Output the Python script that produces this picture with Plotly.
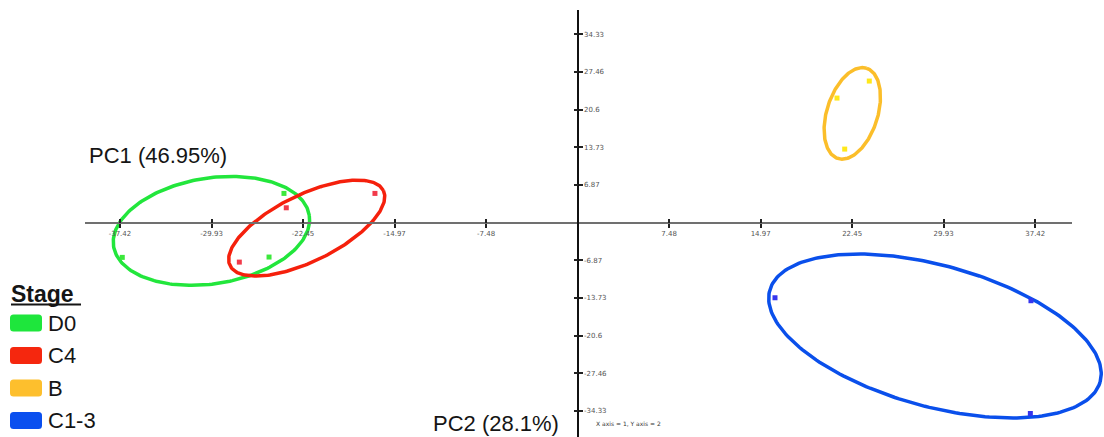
import numpy as np
import plotly.graph_objects as go

# ---------------- data ----------------
stages = ["D0", "C4", "B", "C1-3"]

d0_x = [-24.01, -37.23, -25.23]
d0_y = [5.32, -6.34, -6.28]
c4_x = [-23.82, -16.57, -27.66]
c4_y = [2.70, 5.32, -7.20]
b_x = [23.85, 21.21, 21.84]
b_y = [25.80, 22.70, 13.40]
c13_x = [16.14, 37.07, 37.02]
c13_y = [-13.70, -14.24, -34.80]

# ellipse parameters (centre and two conjugate semi-diameters, data units)
ell_cx = [-29.94, -22.15, 22.46, 29.22]
ell_cy = [-1.51, -1.00, 19.91, -20.67]
ell_ux = [8.00, 6.27, 1.18, 13.51]
ell_uy = [2.83, 6.84, 8.22, -8.33]
ell_vx = [-0.67, -1.19, -1.98, 1.53]
ell_vy = [9.52, 5.45, 1.42, 12.40]

x_ticks = [-37.42, -29.93, -22.45, -14.97, -7.48, 7.48, 14.97, 22.45, 29.93, 37.42]
x_tick_labels = ["-37.42", "-29.93", "-22.45", "-14.97", "-7.48", "7.48", "14.97", "22.45", "29.93", "37.42"]
y_ticks = [34.33, 27.46, 20.6, 13.73, 6.87, -6.87, -13.73, -20.6, -27.46, -34.33]
y_tick_labels = ["34.33", "27.46", "20.6", "13.73", "6.87", "-6.87", "-13.73", "-20.6", "-27.46", "-34.33"]

x_title = "PC1 (46.95%)"
y_title = "PC2 (28.1%)"
note = "X axis = 1, Y axis = 2"
legend_title = "Stage"

# ---------------- styles ----------------
legend_colors = ["#1EE63C", "#F5270E", "#FDBF2D", "#0A4FEF"]
ellipse_colors = ["#22E63C", "#F5200C", "#FBBE2A", "#0A4FEB"]
point_colors = ["#3CE83C", "#F23A4A", "#FFE81A", "#3535EE"]

W, H = 1104, 437
X0, SX = 577.6, 12.23   # pixel of x=0, pixels per unit
Y0, SY = 222.6, 5.486   # pixel of y=0, pixels per unit


def dxv(px):
    return (px - X0) / SX


def dyv(py):
    return (Y0 - py) / SY


def px_(x):
    return x / W


def py_(y):
    return 1 - y / H


fig = go.Figure()

t = np.linspace(0, 2 * np.pi, 241)
for i in range(len(stages)):
    ex = ell_cx[i] + ell_ux[i] * np.cos(t) + ell_vx[i] * np.sin(t)
    ey = ell_cy[i] + ell_uy[i] * np.cos(t) + ell_vy[i] * np.sin(t)
    fig.add_trace(go.Scatter(x=ex, y=ey, mode="lines",
                             line=dict(color=ellipse_colors[i], width=3.5),
                             hoverinfo="skip", showlegend=False))

groups = [(d0_x, d0_y), (c4_x, c4_y), (b_x, b_y), (c13_x, c13_y)]
for i, (gx, gy) in enumerate(groups):
    fig.add_trace(go.Scatter(x=gx, y=gy, mode="markers", name=stages[i],
                             marker=dict(symbol="square", size=5, color=point_colors[i],
                                         line=dict(width=0)),
                             showlegend=False))

# dummy traces for display axes
fig.add_trace(go.Scatter(x=[None], y=[None], xaxis="x2", yaxis="y2",
                         showlegend=False, hoverinfo="skip"))
fig.add_trace(go.Scatter(x=[None], y=[None], xaxis="x3", yaxis="y3",
                         showlegend=False, hoverinfo="skip"))

tickfont = dict(family="DejaVu Sans", size=7, color="#555")
xr = [dxv(85), dxv(1072)]
yr = [dyv(H), dyv(10)]

fig.update_layout(
    width=W, height=H,
    margin=dict(l=0, r=0, t=0, b=0),
    paper_bgcolor="white", plot_bgcolor="rgba(0,0,0,0)",
    xaxis=dict(domain=[0, 1], range=[dxv(0), dxv(W)], visible=False),
    yaxis=dict(domain=[0, 1], range=[dyv(H), dyv(0)], visible=False),
    xaxis2=dict(domain=[85 / W, 1072 / W], range=xr, anchor="free",
                position=(H - Y0) / H, side="bottom",
                showline=True, linecolor="#707070", linewidth=2,
                ticks="outside", ticklen=4, tickwidth=1.5, tickcolor="#222",
                tickvals=x_ticks, ticktext=x_tick_labels, tickfont=tickfont,
                showgrid=False, zeroline=False),
    xaxis3=dict(overlaying="x2", range=xr, anchor="free",
                position=(H - Y0) / H, side="top",
                showline=False, ticks="outside", ticklen=4, tickwidth=1.5,
                tickcolor="#222", tickvals=x_ticks, showticklabels=False,
                showgrid=False, zeroline=False),
    yaxis2=dict(domain=[0, 1 - 10 / H], range=yr, anchor="free",
                position=X0 / W, side="right",
                showline=True, linecolor="#111", linewidth=2,
                ticks="outside", ticklen=4, tickwidth=1.5, tickcolor="#222",
                tickvals=y_ticks, ticktext=y_tick_labels, tickfont=tickfont,
                showgrid=False, zeroline=False),
    yaxis3=dict(overlaying="y2", range=yr, anchor="free",
                position=X0 / W, side="left",
                showline=False, ticks="outside", ticklen=4, tickwidth=1.5,
                tickcolor="#222", tickvals=y_ticks, showticklabels=False,
                showgrid=False, zeroline=False),
    showlegend=False,
)

big = dict(family="Liberation Sans, Arial", size=22, color="#151515")
annotations = [
    dict(text=x_title, x=px_(88), y=py_(155), xref="paper", yref="paper",
         xanchor="left", yanchor="middle", showarrow=False, font=big, borderpad=0),
    dict(text=y_title, x=px_(432), y=py_(423), xref="paper", yref="paper",
         xanchor="left", yanchor="middle", showarrow=False, font=big, borderpad=0),
    dict(text=note, x=px_(595), y=py_(423), xref="paper", yref="paper",
         xanchor="left", yanchor="middle", showarrow=False, borderpad=0,
         font=dict(family="DejaVu Sans", size=6, color="#333")),
    dict(text="<b>" + legend_title + "</b>", x=px_(10), y=py_(294), xref="paper", yref="paper",
         xanchor="left", yanchor="middle", showarrow=False, borderpad=0,
         font=dict(family="Liberation Sans, Arial", size=23, color="#151515")),
]

shapes = [dict(type="line", xref="paper", yref="paper",
               x0=px_(11), x1=px_(81), y0=py_(304.5), y1=py_(304.5),
               line=dict(color="#151515", width=2))]


def rrect(x0, y0, x1, y1, r):
    rx, ry = r / W, r / H
    a0, a1 = px_(x0), px_(x1)
    b0, b1 = py_(y0), py_(y1)  # b0 top (larger), b1 bottom
    return (f"M {a0+rx},{b0} L {a1-rx},{b0} Q {a1},{b0} {a1},{b0-ry} "
            f"L {a1},{b1+ry} Q {a1},{b1} {a1-rx},{b1} L {a0+rx},{b1} "
            f"Q {a0},{b1} {a0},{b1+ry} L {a0},{b0-ry} Q {a0},{b0} {a0+rx},{b0} Z")


for i, s in enumerate(stages):
    cy = 323 + i * 32.5
    shapes.append(dict(type="path", xref="paper", yref="paper",
                       path=rrect(10, cy - 8.5, 42, cy + 8.5, 3.5),
                       fillcolor=legend_colors[i], line=dict(width=0)))
    annotations.append(dict(text=s, x=px_(47), y=py_(cy), xref="paper", yref="paper",
                            xanchor="left", yanchor="middle", showarrow=False,
                            borderpad=0, font=big))

fig.update_layout(annotations=annotations, shapes=shapes)
fig.write_html("out.html")
